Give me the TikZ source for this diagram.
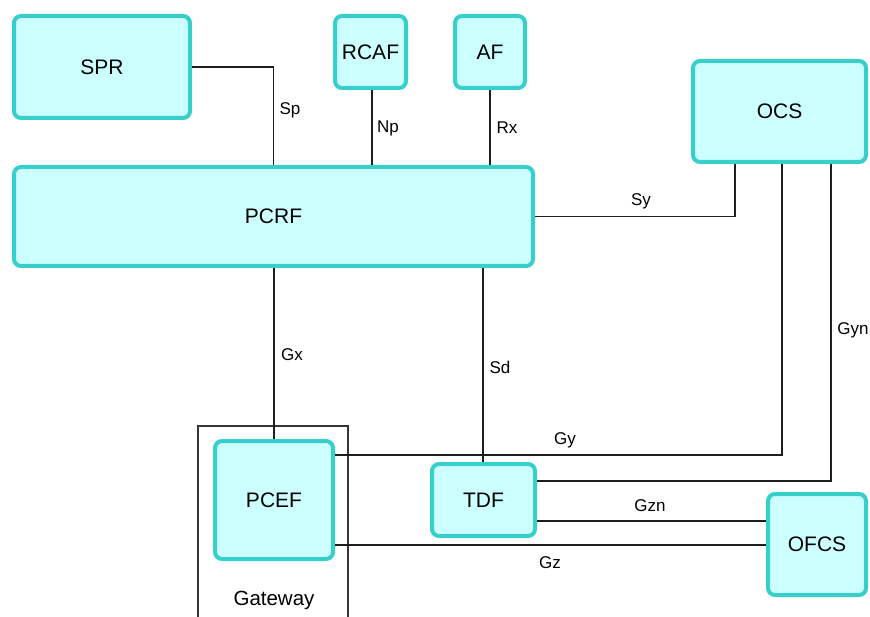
\documentclass[tikz,border=0pt]{standalone}
\usepackage{fontspec}
\setmainfont{Liberation Sans}
\usetikzlibrary{positioning}
\definecolor{boxline}{HTML}{36CFC9}
\definecolor{boxfill}{HTML}{CCFFFF}
\definecolor{wire}{HTML}{1E1E1E}

\begin{document}
\begin{tikzpicture}[x=1pt, y=-1pt,
  box/.style={draw=boxline, fill=boxfill, line width=4pt, rounded corners=7pt,
    font=\fontsize{21}{25}\selectfont, inner sep=0pt},
  lbl/.style={font=\fontsize{17}{20}\selectfont, inner sep=0pt},
  link/.style={draw=wire, line width=1.5pt}]
  \clip (0,0) rectangle (870,617);
  % gateway frame
  \draw[wire!90, line width=1.3pt] (198,640) |- (348,426) -- (348,640);
  \node[lbl, font=\fontsize{20.5}{24}\selectfont] (GWlbl) at (274,600) {Gateway};
  % network functions
  \node[box, minimum width=176, minimum height=102] (SPR) at (102,67) {SPR};
  \node[box, minimum width=71, minimum height=72] (RCAF) at (370.5,52) {RCAF};
  \node[box, minimum width=70, minimum height=72] (AF) at (490,52) {AF};
  \node[box, minimum width=519, minimum height=99] (PCRF) at (273.5,216.5) {PCRF};
  \node[box, minimum width=173, minimum height=101] (OCS) at (779.5,111.5) {OCS};
  \node[box, minimum width=118, minimum height=118] (PCEF) at (274,500) {PCEF};
  \node[box, minimum width=103, minimum height=72] (TDF) at (483.5,500) {TDF};
  \node[box, minimum width=98, minimum height=101] (OFCS) at (817,544.5) {OFCS};
  % reference points
  \draw[link] (SPR.east) -| (PCRF.north);
  \draw[link] ([xshift=1.5pt]RCAF.south) -- ([xshift=1.5pt]RCAF.south |- PCRF.north);
  \draw[link] (AF.south) -- (AF.south |- PCRF.north);
  \draw[link] (PCRF.east) -| ([xshift=-44.5pt]OCS.south);
  \draw[link] ([xshift=2.5pt]OCS.south) |- ([yshift=45pt]PCEF.east);
  \draw[link] ([xshift=51.5pt]OCS.south) |- ([yshift=19pt]TDF.east);
  \draw[link] (PCRF.south -| PCEF.north) -- (PCEF.north);
  \draw[link] ([xshift=-0.5pt]PCRF.south -| TDF.north) -- ([xshift=-0.5pt]TDF.north);
  \draw[link] ([yshift=-21pt]TDF.east) -- ([yshift=-21pt]TDF.east -| OFCS.west);
  \draw[link] ([yshift=-45pt]PCEF.east) -- ([yshift=-45pt]PCEF.east -| OFCS.west);
  % labels
  \node[lbl] (lSp) at (290,110) {Sp};
  \node[lbl] (lNp) at (388,128) {Np};
  \node[lbl] (lRx) at (507,128) {Rx};
  \node[lbl] (lSy) at (641,201) {Sy};
  \node[lbl] (lGy) at (565,440) {Gy};
  \node[lbl] (lGyn) at (853,330) {Gyn};
  \node[lbl] (lGx) at (292,355) {Gx};
  \node[lbl] (lSd) at (500,367) {Sd};
  \node[lbl] (lGzn) at (650,506) {Gzn};
  \node[lbl] (lGz) at (550,563) {Gz};
\end{tikzpicture}
\end{document}
